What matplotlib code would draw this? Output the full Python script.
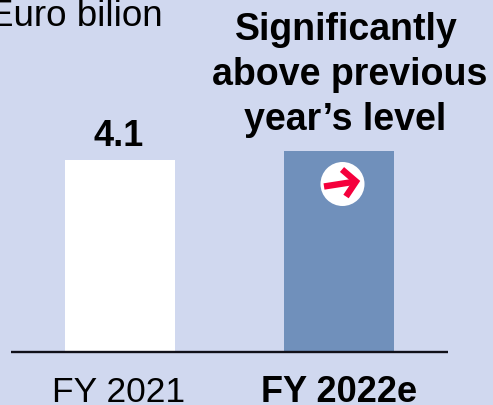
import matplotlib
matplotlib.use('Agg')
import matplotlib.pyplot as plt
from matplotlib.patches import Circle

plt.rcParams['font.family'] = ['Liberation Sans', 'DejaVu Sans']

labels = ['FY 2021', 'FY 2022e']
values = [4.1, 4.28]
bar_colors = ['#ffffff', '#7090bb']
bg = '#d0d8ef'

fig = plt.figure(figsize=(4.93, 4.06), dpi=100, facecolor=bg)
ax = fig.add_axes([0, 0, 1, 1])
ax.set_xlim(0, 493)
ax.set_ylim(406, 0)
ax.axis('off')

# bars share a baseline, 4.1 is 192 px tall
base = 352
scale = (352 - 160.5) / 4.1
for x, v, c in zip([120, 339], values, bar_colors):
    ax.bar(x, -v * scale, bottom=base, width=110, color=c, linewidth=0, zorder=2)
ax.plot([11, 448], [352.5, 352.5], color='#101018', lw=1.7, zorder=3, solid_capstyle='butt')

ax.text(-11, 26, 'Euro bilion', fontsize=26.5, ha='left', va='baseline')
ax.text(119, 146.5, '4.1', fontsize=26, fontweight='bold', ha='center', va='baseline')
ax.text(346, 39.5, 'Significantly', fontsize=27, fontweight='bold', ha='center', va='baseline')
ax.text(350, 85, 'above previous', fontsize=27, fontweight='bold', ha='center', va='baseline')
ax.text(345, 130, 'year\u2019s level', fontsize=27, fontweight='bold', ha='center', va='baseline')
ax.text(118.5, 402, labels[0], fontsize=25.5, ha='center', va='baseline')
ax.text(339, 402, labels[1], fontsize=26, fontweight='bold', ha='center', va='baseline')

# arrow badge on the forecast bar
ax.add_patch(Circle((342.5, 185), 22, color='white', zorder=4, linewidth=0))
ax.plot([324, 356], [187.5, 182.5], color='#f5003c', lw=4.6, zorder=5, solid_capstyle='butt')
ax.plot([342, 356, 346], [170.5, 182.5, 197.5], color='#f5003c', lw=4.6, zorder=5,
        solid_capstyle='butt', solid_joinstyle='miter')

fig.savefig('out.png', dpi=100, facecolor=bg)
